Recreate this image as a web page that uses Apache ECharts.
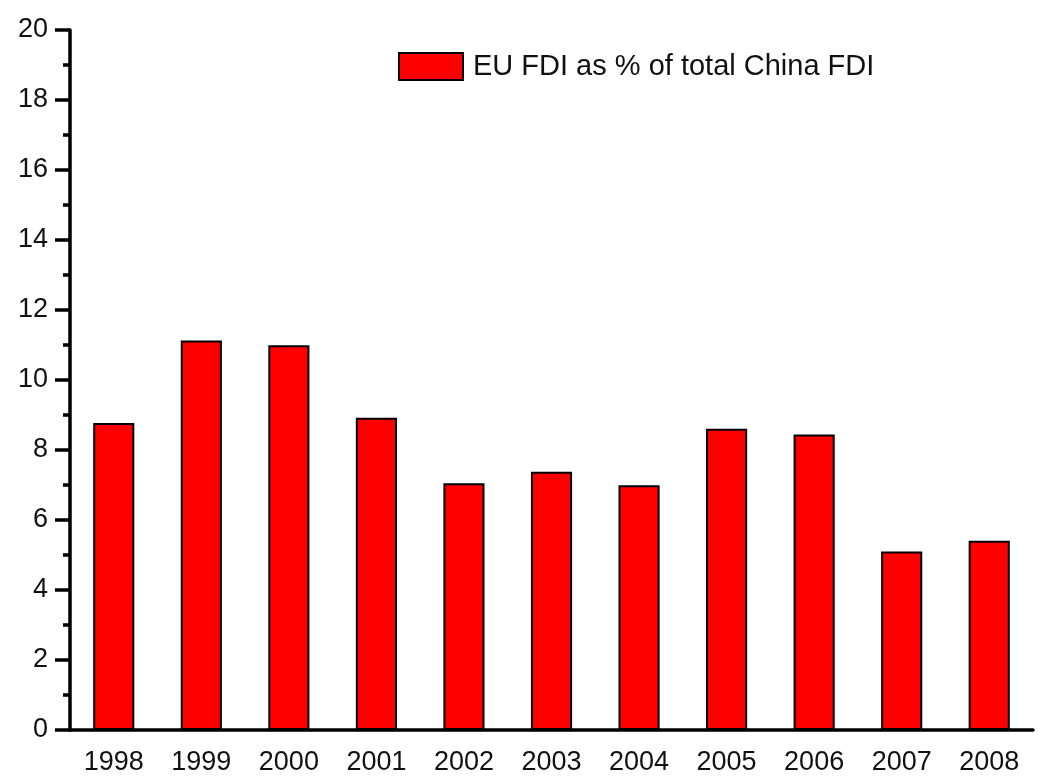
<!DOCTYPE html>
<html>
<head>
<meta charset="utf-8">
<script src="https://cdn.jsdelivr.net/npm/echarts@6/dist/echarts.min.js"></script>
<style>
html, body { margin: 0; padding: 0; background: #fff; }
#chart { width: 1039px; height: 778px; }
</style>
</head>
<body>
<div id="chart"></div>
<script>
var years = ['1998', '1999', '2000', '2001', '2002', '2003', '2004', '2005', '2006', '2007', '2008'];
var euShare = [8.77, 11.13, 10.99, 8.92, 7.05, 7.38, 6.99, 8.61, 8.44, 5.10, 5.41];
var seriesName = 'EU FDI as % of total China FDI';

var FONT = '"Liberation Sans", Arial, sans-serif';

var chart = echarts.init(document.getElementById('chart'));

var options = {
    animation: false,
    textStyle: { fontFamily: FONT },
    grid: { left: 70, right: 6, top: 30, bottom: 48, containLabel: false },
    legend: {
        data: [seriesName],
        icon: 'rect',
        left: 393,
        top: 47,
        itemWidth: 64,
        itemHeight: 27,
        textStyle: { fontSize: 29, color: '#111', fontFamily: FONT, padding: [0, 0, 0, 5] }
    },
    xAxis: [
        {
            type: 'category',
            data: years,
            axisLine: { lineStyle: { color: '#000', width: 3.5 } },
            axisTick: { alignWithLabel: false, length: 8, lineStyle: { color: '#000', width: 3.5 } },
            axisLabel: { fontSize: 27, color: '#111', margin: 19, fontFamily: FONT }
        },
        {
            type: 'category',
            data: years,
            position: 'bottom',
            axisLine: { show: false },
            axisTick: { alignWithLabel: true, length: 16, lineStyle: { color: '#000', width: 3.5 } },
            axisLabel: { show: false }
        }
    ],
    yAxis: {
        type: 'value',
        min: 0,
        max: 20,
        interval: 2,
        axisLine: { show: true, lineStyle: { color: '#000', width: 3.5 } },
        axisTick: { show: true, length: 15, lineStyle: { color: '#000', width: 3.5 } },
        minorTick: { show: true, splitNumber: 2, length: 7, lineStyle: { color: '#000', width: 3.5 } },
        splitLine: { show: false },
        axisLabel: { fontSize: 27, color: '#111', margin: 22, fontFamily: FONT }
    },
    series: [{
        name: seriesName,
        type: 'bar',
        data: euShare,
        barWidth: '47%',
        itemStyle: { color: '#ff0000', borderColor: '#000', borderWidth: 2 }
    }]
};

chart.setOption(options);
</script>
</body>
</html>
